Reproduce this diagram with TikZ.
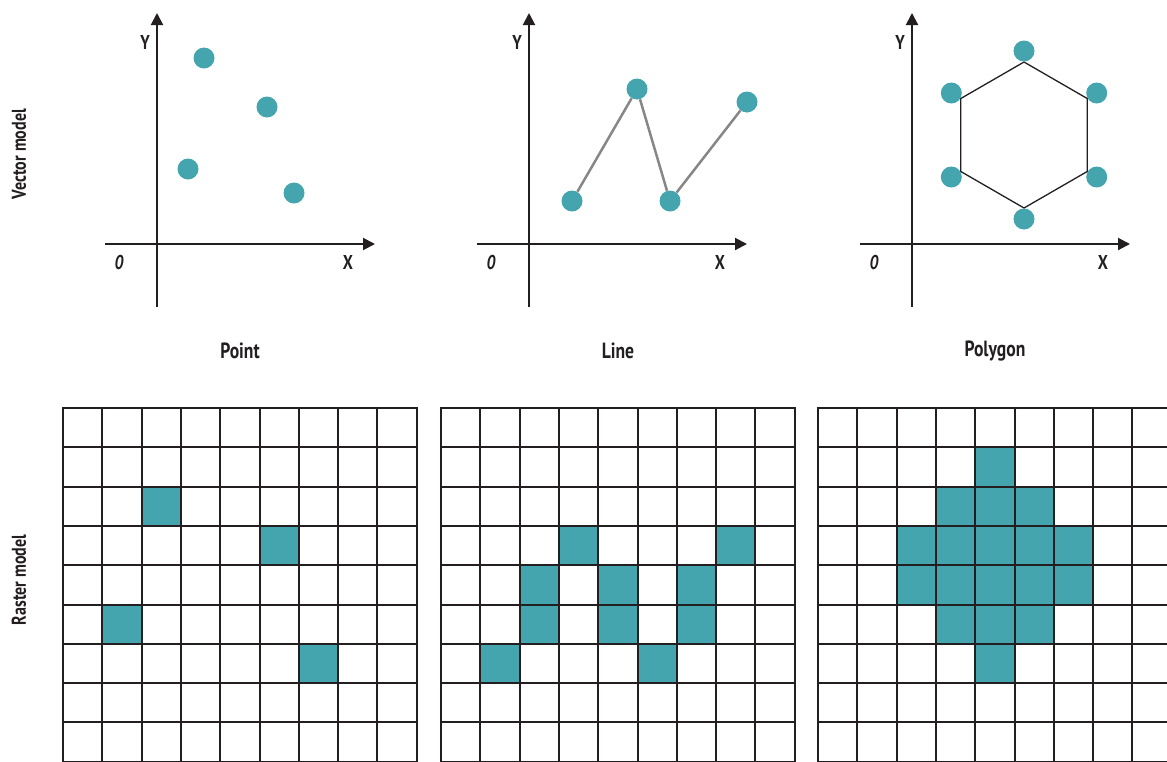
\documentclass[tikz,border=0pt]{standalone}
\usepackage{fontspec}
\setsansfont{PT Sans}[FakeStretch=0.8]
\usetikzlibrary{arrows.meta}
\definecolor{tealfill}{RGB}{69,165,174}
\definecolor{inkblack}{RGB}{35,31,32}
\definecolor{linegray}{RGB}{135,135,135}
\tikzset{
  ax/.style={draw=inkblack, line width=2pt, -{Triangle[length=12pt,width=12pt]}},
  dot/.style={circle, fill=tealfill, minimum size=21pt, inner sep=0pt},
  lbl/.style={font=\sffamily\bfseries\fontsize{22}{26}\selectfont, text=inkblack},
  axl/.style={font=\sffamily\bfseries\fontsize{20}{22}\selectfont, text=inkblack},
  axi/.style={font=\sffamily\bfseries\itshape\fontsize{20}{22}\selectfont, text=inkblack},
  side/.style={font=\sffamily\bfseries\fontsize{20}{22}\selectfont, text=inkblack, rotate=90},
  cell/.style={fill=tealfill},
  gl/.style={draw=inkblack, line width=2pt, line cap=rect},
  ln/.style={draw=linegray, line width=2.5pt},
  hex/.style={draw=inkblack, line width=1.3pt},
}

\begin{document}
\begin{tikzpicture}[x=1pt, y=-1pt]
\useasboundingbox (0,0) rectangle (1167,761);
\clip (0,0) rectangle (1167,761);
% row titles
\node[side] (vec) at (19,154) {Vector model};
\node[side] (ras) at (19,580) {Raster model};
% axes of the three plots
\foreach \ox/\id in {157/a,529/b,912/c}{
  \coordinate (xl\id) at (\ox-52,244);
  \coordinate (xr\id) at (\ox+218,244);
  \coordinate (yb\id) at (\ox,307);
  \coordinate (yt\id) at (\ox,13);
  \draw[ax] (xl\id) -- (xr\id);
  \draw[ax] (yb\id) -- (yt\id);
  \node[axl] (Y\id) at (\ox-12,42) {Y};
  \node[axl] (X\id) at (\ox+191,262) {X};
  \node[axi] (O\id) at (\ox-38,262) {0};
}
% point
\node[dot] (p1) at (204,58) {};
\node[dot] (p2) at (267,107) {};
\node[dot] (p3) at (188,169) {};
\node[dot] (p4) at (294,193) {};
% line
\node[dot] (l1) at (572,201) {};
\node[dot] (l2) at (637,89) {};
\node[dot] (l3) at (670,201) {};
\node[dot] (l4) at (747,102) {};
\draw[ln] (l1) -- (l2) -- (l3) -- (l4);
% polygon
\coordinate (h1) at (1024,62);
\coordinate (h2) at (1087.2,98.5);
\coordinate (h3) at (1087.2,171.5);
\coordinate (h4) at (1024,208);
\coordinate (h5) at (960.8,171.5);
\coordinate (h6) at (960.8,98.5);
\draw[hex] (h1) -- (h2) -- (h3) -- (h4) -- (h5) -- (h6) -- cycle;
\node[dot] (v1) at (1024,51) {};
\node[dot] (v2) at (1096.7,93) {};
\node[dot] (v3) at (1096.7,177) {};
\node[dot] (v4) at (1024,219) {};
\node[dot] (v5) at (951.3,177) {};
\node[dot] (v6) at (951.3,93) {};
% captions
\node[lbl] (cpt) at (240,351) {Point};
\node[lbl] (cln) at (618,351) {Line};
\node[lbl] (cpg) at (995,351) {Polygon};
% raster cells
\foreach \c/\r in {2/2,5/3,1/5,6/6}
  \fill[cell] (63+\c*39.3,408+\r*39.3) rectangle ++(39.3,39.3);
\foreach \c/\r in {3/3,7/3,2/4,4/4,6/4,2/5,4/5,6/5,1/6,5/6}
  \fill[cell] (441+\c*39.3,408+\r*39.3) rectangle ++(39.3,39.3);
\foreach \c/\r in {4/1,3/2,4/2,5/2,2/3,3/3,4/3,5/3,6/3,2/4,3/4,4/4,5/4,6/4,3/5,4/5,5/5,4/6}
  \fill[cell] (818+\c*39.3,408+\r*39.3) rectangle ++(39.3,39.3);
% raster grids
\foreach \gx in {63,441,818}{
  \foreach \i in {0,...,9}{
    \draw[gl] (\gx+\i*39.3,408) -- (\gx+\i*39.3,761.7);
    \draw[gl] (\gx,408+\i*39.3) -- (\gx+353.7,408+\i*39.3);
  }
}
\end{tikzpicture}
\end{document}
